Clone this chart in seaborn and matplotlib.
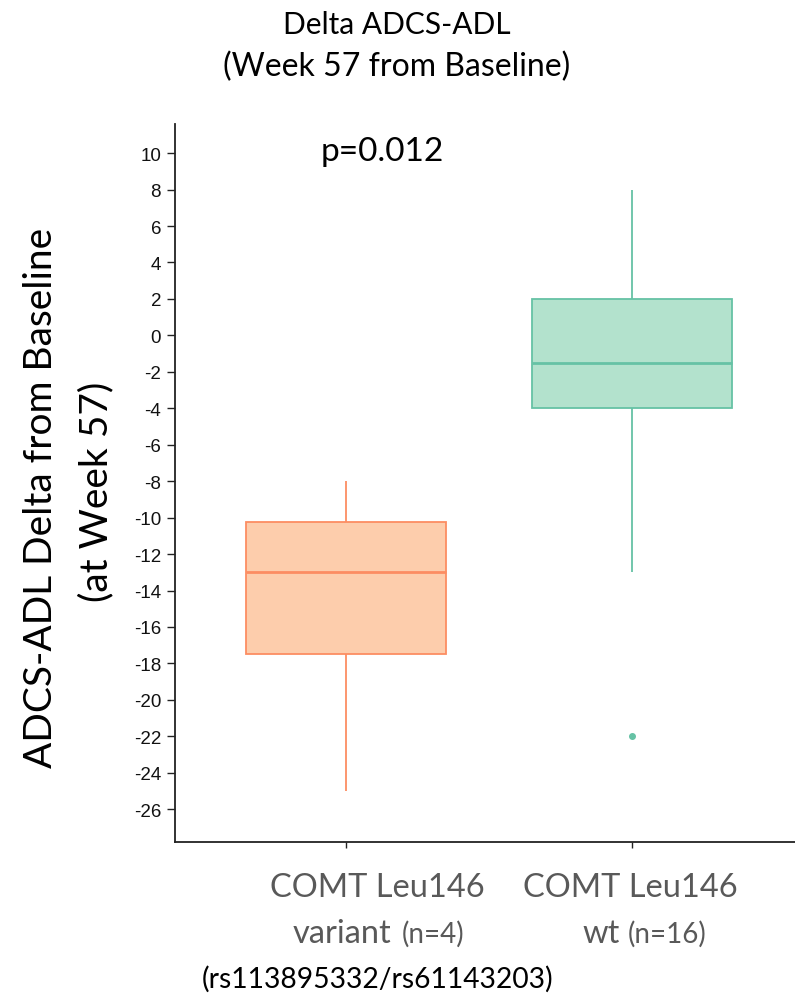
import numpy as np
import pandas as pd
import matplotlib
matplotlib.use("Agg")
import matplotlib.pyplot as plt
import seaborn as sns

# ---- data ----
groups = ["variant", "wt"]
variant_values = [-25, -15, -11, -8]
wt_values = [-22, -13, -8, -4, -4, -3, -2, -2, -1, 0, 1, 2, 2, 4, 5, 8]
yticks = list(range(-26, 11, 2))
fill_colors = ["#FDCDAC", "#B3E2CD"]
edge_colors = ["#FC8D62", "#66C2A5"]

df = pd.DataFrame({
    "group": ["variant"] * len(variant_values) + ["wt"] * len(wt_values),
    "value": variant_values + wt_values,
})

sns.set_theme(style="white")
plt.rcParams["axes.unicode_minus"] = False
W, H = 795, 995
fig = plt.figure(figsize=(W / 100, H / 100), dpi=100)
ax = fig.add_axes([175 / W, 1 - 843 / H, 1 - 175 / W, (843 - 125) / H])

for g, fc, ec in zip(groups, fill_colors, edge_colors):
    sub = df[df["group"] == g]
    sns.boxplot(data=sub, x="group", y="value", order=groups, ax=ax,
                color=fc, saturation=1, width=0.7, showcaps=False,
                linecolor=ec, linewidth=1.3,
                medianprops=dict(color=ec, linewidth=2.0),
                flierprops=dict(marker="o", markersize=4, markerfacecolor=ec,
                                markeredgecolor=ec))

ax.set_ylim(-27.8, 11.6)
ax.set_xlim(-0.6, 1.57)
ax.set_yticks(yticks)
ax.set_yticklabels([str(t) for t in yticks], fontfamily="Liberation Sans", fontsize=13.5)
ax.set_xticks([0, 1])
ax.set_xticklabels(["", ""])
ax.set_xlabel("")
ax.set_ylabel("")
for s in ["top", "right"]:
    ax.spines[s].set_visible(False)
for s in ["left", "bottom"]:
    ax.spines[s].set_color("#222222")
    ax.spines[s].set_linewidth(1.3)
ax.tick_params(axis="y", which="major", left=True, length=6, width=1, color="#222222", pad=4, labelcolor="#111111")
ax.tick_params(axis="x", which="major", bottom=True, length=4, width=1, color="#222222")

font = "Lato"

def ftext(x, y, s, **kw):
    fig.text(x / W, 1 - y / H, s, **kw)

# title
ftext(397, 25, "Delta ADCS-ADL", ha="center", va="center", fontsize=21.5, family=font, color="black")
ftext(397, 67, "(Week 57 from Baseline)", ha="center", va="center", fontsize=23, family=font, color="black")
# p-value
ftext(382, 152, "p=0.012", ha="center", va="center", fontsize=24, family=font, color="black")
# y label
ftext(41, 498, "ADCS-ADL Delta from Baseline", ha="center", va="center", rotation=90, fontsize=28, family=font, color="black")
ftext(96, 492, "(at Week 57)", ha="center", va="center", rotation=90, fontsize=28, family=font, color="black")
# x labels
gray = "#595959"
ftext(377, 897, "COMT Leu146", ha="center", va="baseline", fontsize=23.5, family=font, color=gray)
ftext(630, 897, "COMT Leu146", ha="center", va="baseline", fontsize=23.5, family=font, color=gray)
ftext(391, 943, "variant", ha="right", va="baseline", fontsize=23.5, family=font, color=gray)
ftext(402, 943, "(n=4)", ha="left", va="baseline", fontsize=20, family=font, color=gray)
ftext(620, 943, "wt", ha="right", va="baseline", fontsize=23.5, family=font, color=gray)
ftext(628, 943, "(n=16)", ha="left", va="baseline", fontsize=20, family=font, color=gray)
ftext(378, 988, "(rs113895332/rs61143203)", ha="center", va="baseline", fontsize=20.3, family=font, color="black")

fig.savefig("out.png", dpi=100)
